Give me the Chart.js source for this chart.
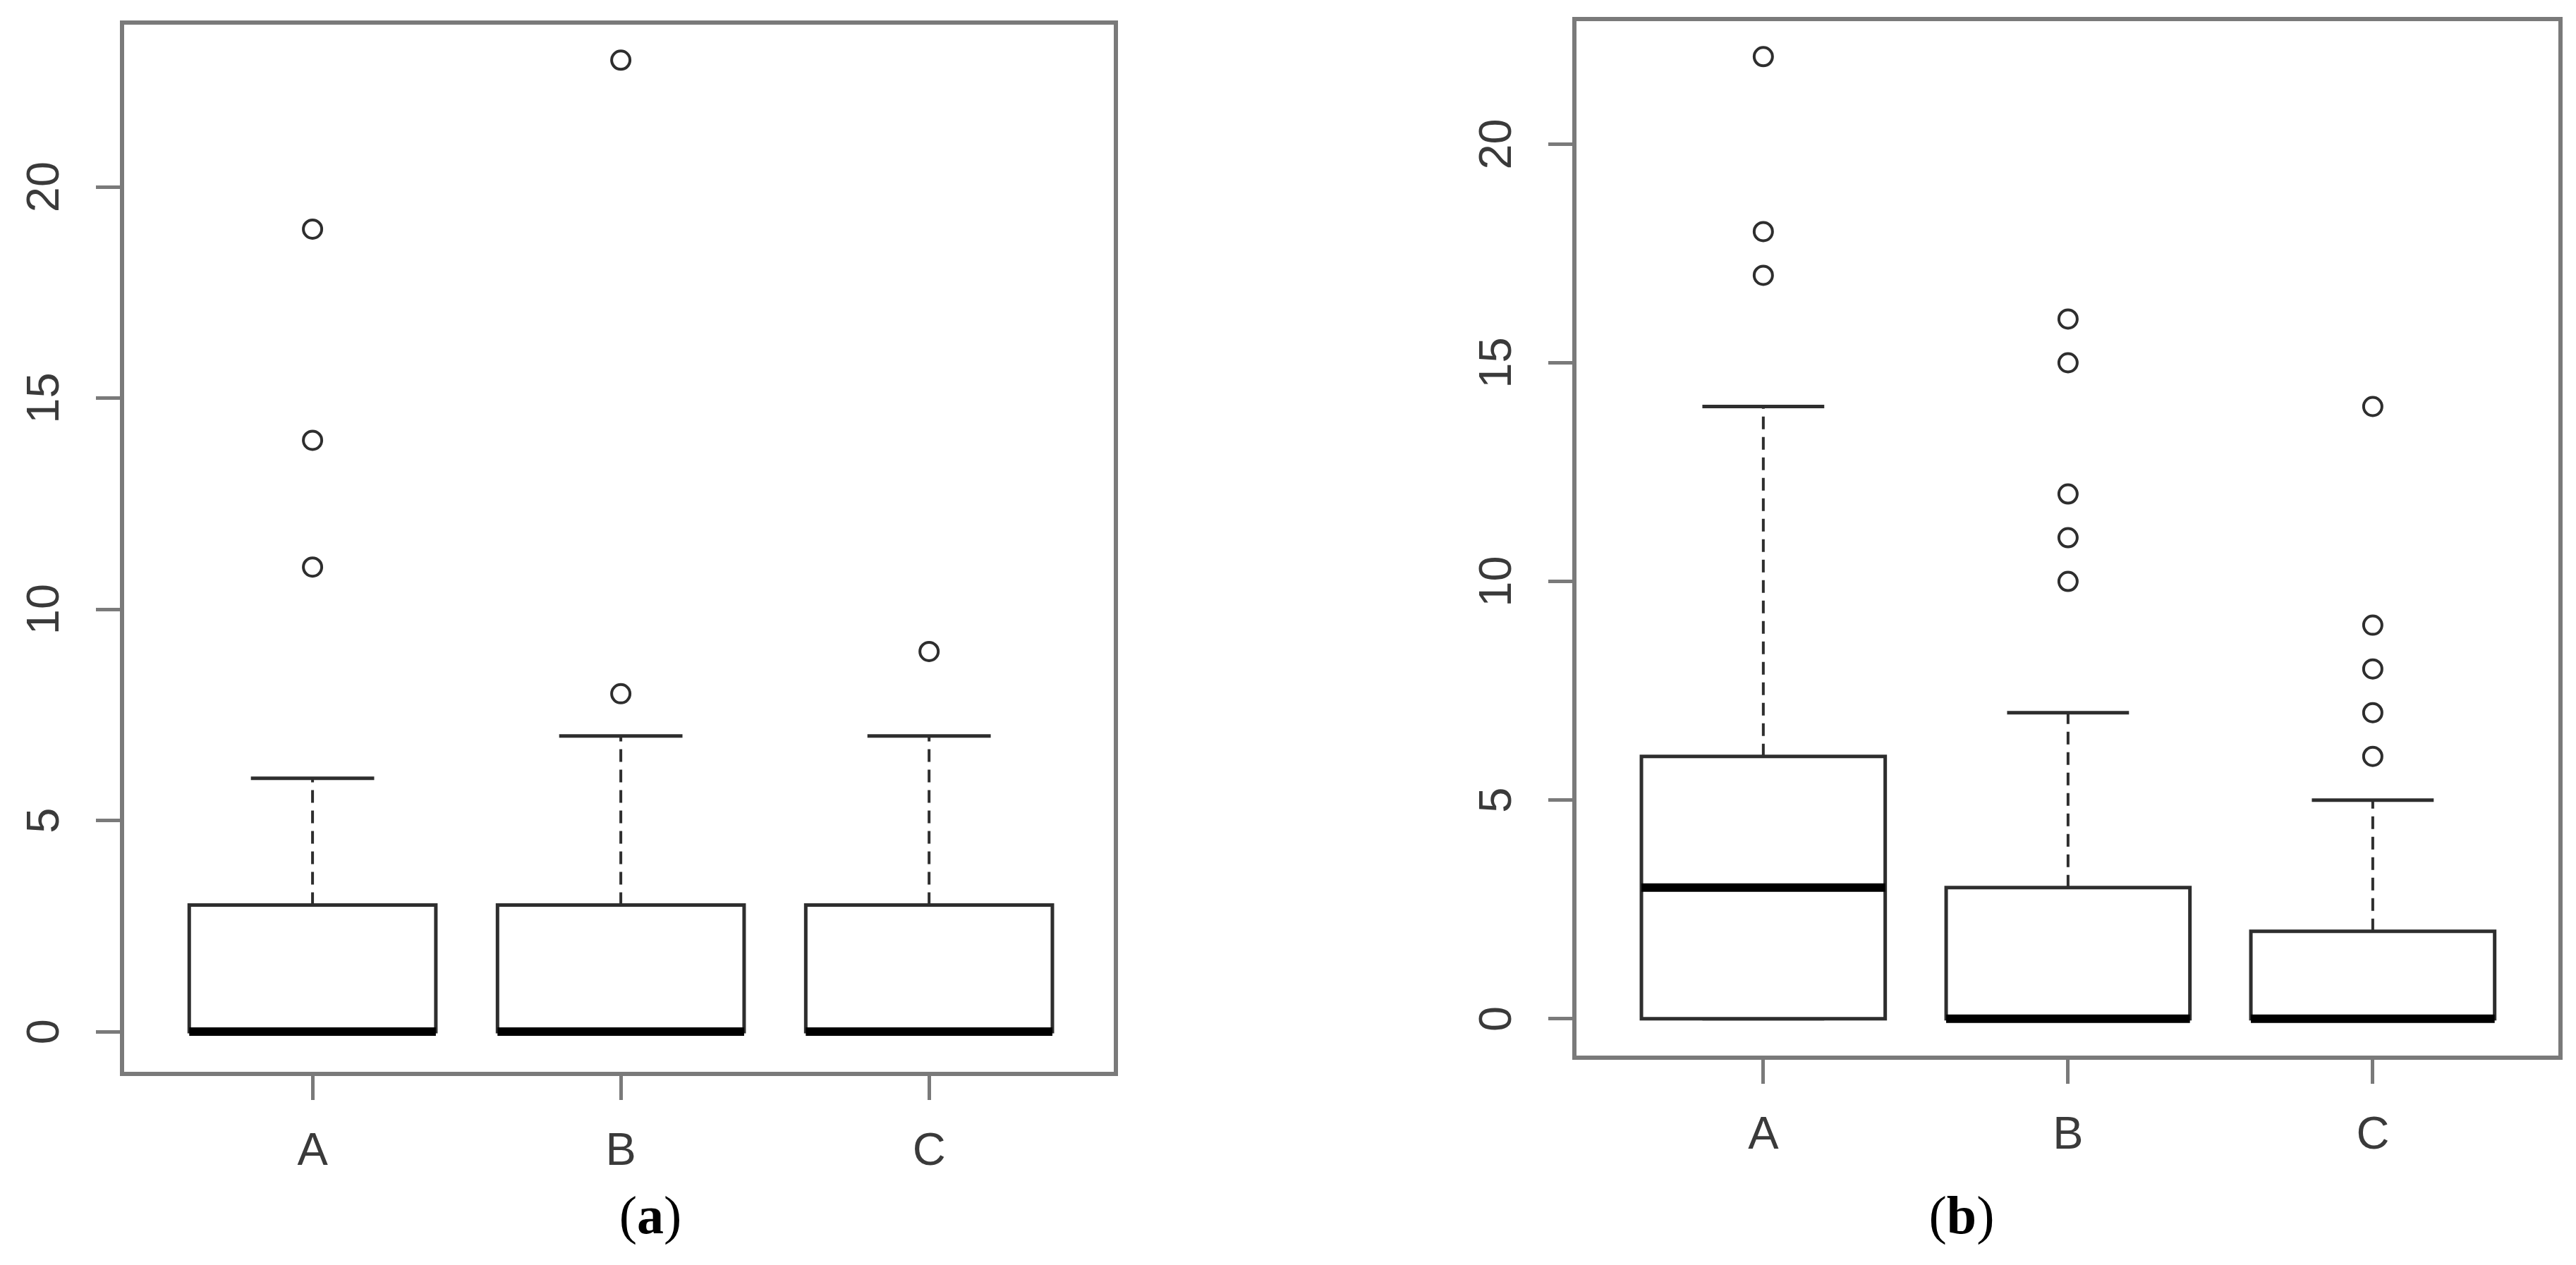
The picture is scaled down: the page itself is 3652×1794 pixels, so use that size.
<!DOCTYPE html>
<html>
<head>
<meta charset="utf-8">
<script src="https://cdn.jsdelivr.net/npm/chart.js@4"></script>
<style>
  html, body { margin: 0; padding: 0; background: #fff; }
  #wrap { position: relative; width: 3652px; height: 1794px; overflow: hidden; background: #fff; }
  canvas { position: absolute; top: 0; }
  #chartA { left: 0; }
  #chartB { left: 1826px; }
  .panel {
    position: absolute; top: 1685px;
    font-family: "Liberation Serif", "Times New Roman", serif;
    font-size: 76px; line-height: 76px; color: #000;
    transform: translateX(-50%); white-space: nowrap;
  }
</style>
</head>
<body>
<div id="wrap">
  <canvas id="chartA" width="1826" height="1794"></canvas>
  <canvas id="chartB" width="1826" height="1794"></canvas>
  <div class="panel" style="left:922px">(<b>a</b>)</div>
  <div class="panel" style="left:2781px">(<b>b</b>)</div>
</div>
<script>
// shared
const groups = ["A", "B", "C"];
const yTicks = [0, 5, 10, 15, 20];

// panel (a)
const aQ1 = [0, 0, 0];
const aMedian = [0, 0, 0];
const aQ3 = [3, 3, 3];
const aLower = [0, 0, 0];
const aUpper = [6, 7, 7];
const aOutliers = [[11, 14, 19], [8, 23], [9]];

// panel (b)
const bQ1 = [0, 0, 0];
const bMedian = [3, 0, 0];
const bQ3 = [6, 3, 2];
const bLower = [0, 0, 0];
const bUpper = [14, 7, 5];
const bOutliers = [[17, 18, 22], [10, 11, 12, 15, 16], [6, 7, 8, 9, 14]];

const lineColor = "#2e2e2e";
const axisColor = "#7a7a7a";
const labelColor = "#3a3a3a";

// turn [x0, y0, x1, y1, ...] polylines into one line with gaps
function segments(pieces) {
  const pts = [];
  pieces.forEach(p => {
    for (let k = 0; k < p.length; k += 2) pts.push({ x: p[k], y: p[k + 1] });
    pts.push({ x: p[p.length - 2], y: null });
  });
  return pts;
}

const frame = {
  id: "frame",
  beforeDatasetsDraw(chart) {
    const { ctx, chartArea: a } = chart;
    ctx.save();
    ctx.strokeStyle = axisColor;
    ctx.lineWidth = 6;
    ctx.strokeRect(a.left, a.top, a.right - a.left, a.bottom - a.top);
    ctx.restore();
  }
};

function makeBoxChart(id, q1, med, q3, lo, hi, outliers, box) {
  const medians = segments(groups.map((g, i) => [i + 0.6, med[i], i + 1.4, med[i]]));
  const outlines = segments(groups.map((g, i) => [
    i + 0.6, q1[i], i + 1.4, q1[i], i + 1.4, q3[i], i + 0.6, q3[i], i + 0.6, q1[i]
  ]));
  const whiskers = segments(groups.flatMap((g, i) => [
    [i + 1, q3[i], i + 1, hi[i]],
    [i + 1, q1[i], i + 1, lo[i]]
  ]));
  const staples = segments(groups.flatMap((g, i) => [
    [i + 0.8, hi[i], i + 1.2, hi[i]],
    [i + 0.8, lo[i], i + 1.2, lo[i]]
  ]));
  const points = groups.flatMap((g, i) => outliers[i].map(v => ({ x: i + 1, y: v })));

  const lineSet = (data, extra) => Object.assign({
    type: "line",
    data: data,
    borderColor: lineColor,
    borderWidth: 5,
    borderCapStyle: "butt",
    pointRadius: 0,
    spanGaps: false,
    fill: false
  }, extra);

  return new Chart(document.getElementById(id), {
    type: "bar",
    data: {
      datasets: [
        lineSet(medians, { borderColor: "#000", borderWidth: 12 }),
        lineSet(outlines, { borderCapStyle: "square" }),
        {
          type: "bar",
          data: groups.map((g, i) => ({ x: i + 1, y: [q1[i], q3[i]] })),
          backgroundColor: "#fff",
          borderWidth: 0,
          categoryPercentage: 1,
          barPercentage: 0.8
        },
        lineSet(whiskers, { borderWidth: 4, borderDash: [18, 11] }),
        lineSet(staples, {}),
        {
          type: "scatter",
          data: points,
          pointStyle: "circle",
          pointRadius: 13,
          borderWidth: 4,
          borderColor: lineColor,
          backgroundColor: "rgba(255,255,255,0)"
        }
      ]
    },
    options: {
      responsive: false,
      animation: false,
      events: [],
      layout: { padding: { left: 0, top: box.top, right: box.right, bottom: 0 } },
      plugins: { legend: { display: false }, tooltip: { enabled: false } },
      scales: {
        x: {
          type: "linear",
          min: box.xMin,
          max: box.xMax,
          offset: false,
          border: { display: false },
          grid: {
            offset: false,
            drawOnChartArea: false,
            drawTicks: true,
            tickLength: 37,
            tickWidth: 5,
            tickColor: axisColor
          },
          afterBuildTicks: s => { s.ticks = groups.map((g, i) => ({ value: i + 1 })); },
          afterFit: s => { s.height = box.xHeight; s.paddingLeft = 0; s.paddingRight = 0; },
          ticks: {
            minRotation: 0,
            maxRotation: 0,
            padding: 35,
            color: labelColor,
            font: { family: "'Liberation Sans', Arial, sans-serif", size: 65 },
            callback: v => groups[v - 1]
          }
        },
        y: {
          type: "linear",
          min: box.yMin,
          max: box.yMax,
          border: { display: false },
          grid: {
            drawOnChartArea: false,
            drawTicks: true,
            tickLength: 37,
            tickWidth: 5,
            tickColor: axisColor
          },
          afterBuildTicks: s => { s.ticks = yTicks.map(v => ({ value: v })); },
          afterFit: s => { s.width = box.yWidth; s.paddingTop = 0; s.paddingBottom = 0; },
          ticks: {
            minRotation: 90,
            maxRotation: 90,
            crossAlign: "center",
            padding: 35,
            color: labelColor,
            font: { family: "'Liberation Sans', Arial, sans-serif", size: 65 }
          }
        }
      }
    },
    plugins: [frame]
  });
}

const chartA = makeBoxChart("chartA", aQ1, aMedian, aQ3, aLower, aUpper, aOutliers, {
  top: 32, right: 244, xHeight: 271, yWidth: 173,
  xMin: 0.382, xMax: 3.606, yMin: -1.0, yMax: 23.89
});

const chartB = makeBoxChart("chartB", bQ1, bMedian, bQ3, bLower, bUpper, bOutliers, {
  top: 27, right: 22, xHeight: 294, yWidth: 406,
  xMin: 0.38, xMax: 3.616, yMin: -0.89, yMax: 22.86
});
</script>
</body>
</html>
